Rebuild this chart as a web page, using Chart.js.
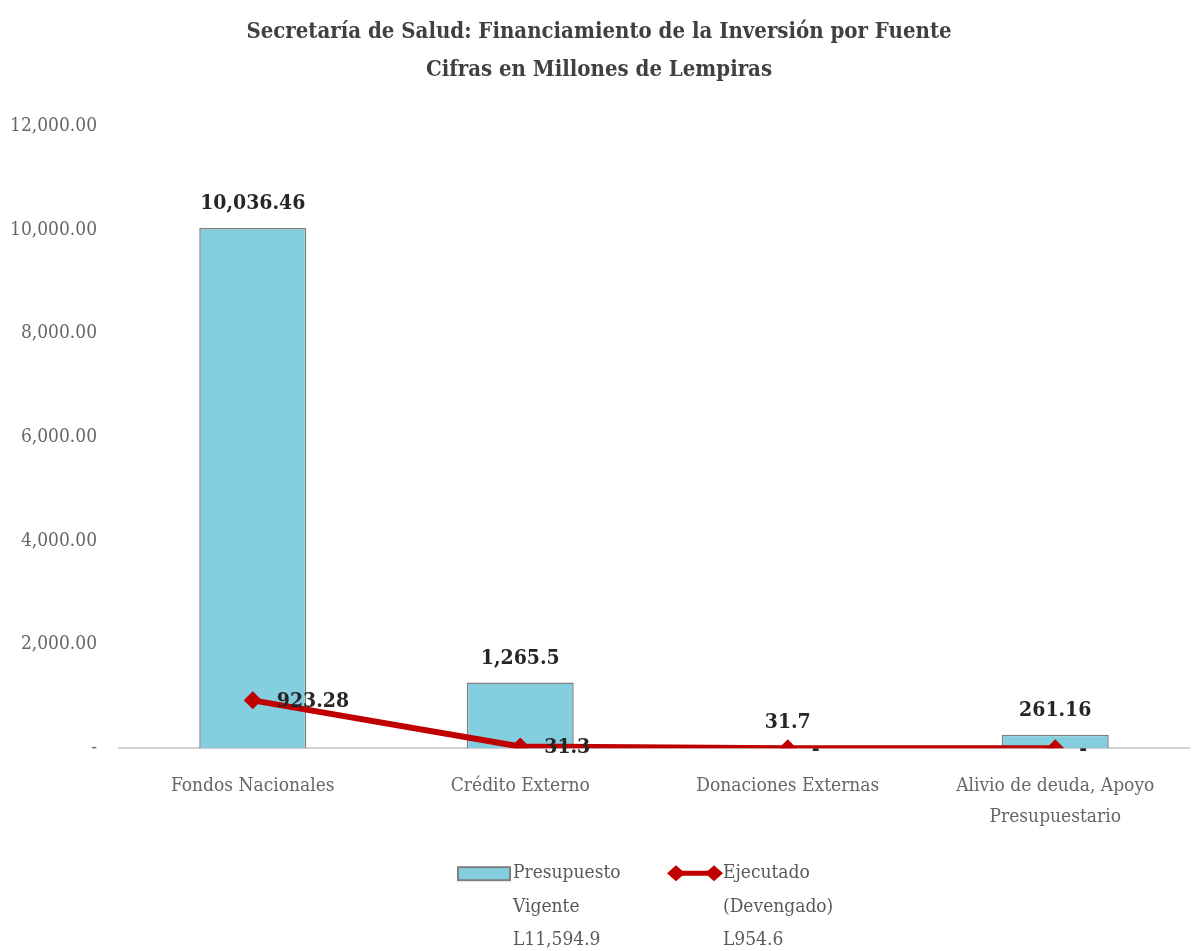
<!DOCTYPE html>
<html lang="es">
<head>
<meta charset="UTF-8">
<title>Secretaría de Salud: Financiamiento de la Inversión por Fuente</title>
<script src="https://cdn.jsdelivr.net/npm/chart.js"></script>
<style>
    body { margin: 0; background: #fff; }
    #wrap { width: 1198px; height: 951px; }
</style>
</head>
<body>
<div id="wrap"><canvas id="grafico" width="1198" height="951"></canvas></div>
<script>
// datos
const fuentes = ['Fondos Nacionales', 'Crédito Externo', 'Donaciones Externas', ['Alivio de deuda, Apoyo', 'Presupuestario']];
const presupuesto = [10036.46, 1265.5, 31.7, 261.16];
const ejecutado = [923.28, 31.3, 0, 0];
const etiquetasPresupuesto = ['10,036.46', '1,265.5', '31.7', '261.16'];
const etiquetasEjecutado = ['923.28', '31.3', '-', '-'];
const leyendaPresupuesto = ['Presupuesto', 'Vigente', 'L11,594.9'];
const leyendaEjecutado = ['Ejecutado', '(Devengado)', 'L954.6'];
const ticksY = [0, 2000, 4000, 6000, 8000, 10000, 12000];

const FUENTE = "'DejaVu Serif Condensed', 'Liberation Serif', serif";
const AZUL = '#84cfdf';
const ROJO = '#c00000';

// etiquetas de valores
const etiquetasValores = {
    id: 'etiquetasValores',
    afterDatasetsDraw(chart) {
        const ctx = chart.ctx;
        ctx.save();
        ctx.font = 'bold 21px ' + FUENTE;
        ctx.fillStyle = '#262626';
        ctx.textAlign = 'center';
        ctx.textBaseline = 'bottom';
        chart.getDatasetMeta(1).data.forEach((bar, i) => {
            ctx.fillText(etiquetasPresupuesto[i], bar.x, bar.y - 14);
        });
        ctx.textAlign = 'left';
        ctx.textBaseline = 'middle';
        chart.getDatasetMeta(0).data.forEach((pt, i) => {
            ctx.fillText(etiquetasEjecutado[i], pt.x + 24, pt.y + 1);
        });
        ctx.restore();
    }
};

// leyenda de varias líneas dibujada a mano
const leyenda = {
    id: 'leyenda',
    afterDraw(chart) {
        const ctx = chart.ctx;
        const x0 = chart.width / 2 - 141;
        const y0 = chart.chartArea.bottom + 125;
        const paso = 33.5;
        ctx.save();
        // caja de la barra
        ctx.fillStyle = AZUL;
        ctx.strokeStyle = '#7f7f7f';
        ctx.lineWidth = 2;
        ctx.fillRect(x0, y0 - 6, 52, 13);
        ctx.strokeRect(x0, y0 - 6, 52, 13);
        // línea con rombos
        const x1 = x0 + 210;
        ctx.strokeStyle = ROJO;
        ctx.fillStyle = ROJO;
        ctx.lineWidth = 5;
        ctx.beginPath(); ctx.moveTo(x1 + 8, y0); ctx.lineTo(x1 + 46, y0); ctx.stroke();
        [x1 + 8, x1 + 46].forEach(x => {
            ctx.beginPath();
            ctx.moveTo(x - 9, y0); ctx.lineTo(x, y0 - 8); ctx.lineTo(x + 9, y0); ctx.lineTo(x, y0 + 8);
            ctx.closePath(); ctx.fill();
        });
        // textos
        ctx.font = '19px ' + FUENTE;
        ctx.fillStyle = '#595959';
        ctx.textAlign = 'left';
        ctx.textBaseline = 'middle';
        leyendaPresupuesto.forEach((t, i) => ctx.fillText(t, x0 + 55, y0 + i * paso));
        leyendaEjecutado.forEach((t, i) => ctx.fillText(t, x1 + 55, y0 + i * paso));
        ctx.restore();
    }
};

const ctx = document.getElementById('grafico').getContext('2d');
new Chart(ctx, {
    data: {
        labels: fuentes,
        datasets: [
            {
                type: 'line',
                label: 'Ejecutado (Devengado)',
                data: ejecutado,
                borderColor: ROJO,
                backgroundColor: ROJO,
                borderWidth: 6,
                pointStyle: 'rectRot',
                pointRadius: 9,
                pointHoverRadius: 9,
                pointBorderWidth: 0,
                tension: 0,
                order: 0
            },
            {
                type: 'bar',
                label: 'Presupuesto Vigente',
                data: presupuesto,
                backgroundColor: AZUL,
                borderColor: '#7f7f7f',
                borderWidth: 1.5,
                categoryPercentage: 1,
                barPercentage: 0.4,
                order: 1
            }
        ]
    },
    options: {
        responsive: false,
        animation: false,
        layout: { padding: { top: 0, right: 0, bottom: 96, left: 0 } },
        scales: {
            x: {
                grid: { display: false, drawTicks: false },
                border: { display: true, color: '#d0d0d0', width: 2 },
                ticks: {
                    color: '#666',
                    padding: 23,
                    maxRotation: 0,
                    font: { family: FUENTE, size: 19, lineHeight: 1.6 }
                }
            },
            y: {
                min: 0,
                max: 12000,
                afterFit(scale) { scale.width = 119; },
                afterBuildTicks(scale) { scale.ticks = ticksY.map(v => ({ value: v })); },
                grid: { display: false, drawTicks: false },
                border: { display: false },
                ticks: {
                    color: '#666',
                    padding: 22,
                    font: { family: FUENTE, size: 19 },
                    callback: v => v === 0 ? '-' : v.toLocaleString('en-US', { minimumFractionDigits: 2, maximumFractionDigits: 2 })
                }
            }
        },
        plugins: {
            title: {
                display: true,
                text: ['Secretaría de Salud: Financiamiento de la Inversión por Fuente', 'Cifras en Millones de Lempiras'],
                color: '#404040',
                font: { family: FUENTE, size: 22, weight: 'bold', lineHeight: 1.73 },
                padding: { top: 13, bottom: 37 }
            },
            legend: { display: false },
            tooltip: { enabled: false }
        }
    },
    plugins: [etiquetasValores, leyenda]
});
</script>
</body>
</html>
